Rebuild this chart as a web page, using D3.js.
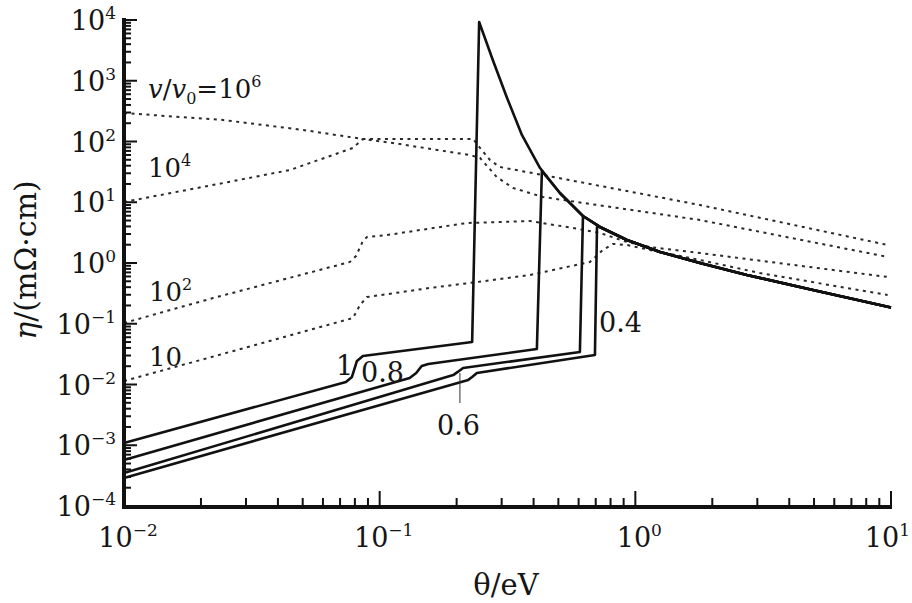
<!DOCTYPE html>
<html>
<head>
<meta charset="utf-8">
<script src="https://cdn.jsdelivr.net/npm/d3@7"></script>
<style>
  body { margin: 0; background: #fff; }
  svg { display: block; }
  text { font-family: "DejaVu Serif", serif; fill: #151515; }
</style>
</head>
<body>
<svg id="chart" width="912" height="603"></svg>
<script>
// tick values and labels
const xTicks = [0.01, 0.1, 1, 10]
const xTickExp = ['\u22122', '\u22121', '0', '1']
const yTicks = [1e-4, 1e-3, 1e-2, 1e-1, 1, 10, 100, 1000, 10000]
const yTickExp = ['\u22124', '\u22123', '\u22122', '\u22121', '0', '1', '2', '3', '4']
const minorMult = [2, 3, 4, 5, 6, 7, 8, 9]

// common high-temperature branch of the solid curves
const envTheta = [0.245, 0.277, 0.315, 0.360, 0.424, 0.507, 0.624, 0.727, 0.927, 1.25, 1.79, 2.73, 4.95, 10]
const envEta   = [9270, 2200, 520, 128, 36.6, 14.2, 5.94, 3.92, 2.39, 1.52, 1.0, 0.634, 0.360, 0.185]

// solid curves, v/v0 = 1, 0.8, 0.6, 0.4 (before they join the common branch)
const s1Theta  = [0.01, 0.0738, 0.0779, 0.0815, 0.086, 0.230]
const s1Eta    = [0.00109, 0.0110, 0.0133, 0.0244, 0.0294, 0.0501]
const s08Theta = [0.01, 0.131, 0.139, 0.146, 0.155, 0.412, 0.431]
const s08Eta   = [0.000571, 0.0128, 0.0155, 0.0202, 0.0217, 0.0384, 32.7]
const s06Theta = [0.01, 0.194, 0.202, 0.212, 0.607, 0.624]
const s06Eta   = [0.000349, 0.0143, 0.0161, 0.0187, 0.0343, 5.94]
const s04Theta = [0.01, 0.222, 0.230, 0.240, 0.695, 0.708]
const s04Eta   = [0.000289, 0.0119, 0.0133, 0.0155, 0.0306, 3.92]

// dotted curves, v/v0 = 1e6, 1e4, 1e2, 10
const d6Theta = [0.01, 0.0244, 0.0501, 0.086, 0.232, 0.247, 0.270, 0.295, 0.435, 1.79, 9.7]
const d6Eta   = [294, 226, 155, 110, 110, 78.2, 49.6, 38.0, 28.1, 9.01, 1.98]
const d4Theta = [0.01, 0.0244, 0.0446, 0.0786, 0.086, 0.1127, 0.168, 0.225, 0.247, 0.287, 0.332, 0.435, 1.79, 9.7]
const d4Eta   = [10.1, 20.7, 34.0, 78.2, 110, 94.5, 72.4, 60.0, 53.5, 26.1, 17.2, 12.2, 5.10, 1.26]
const d2Theta = [0.01, 0.0223, 0.0765, 0.0808, 0.086, 0.0892, 0.107, 0.219, 0.387, 0.570, 0.727, 0.927, 1.14, 1.79, 9.7]
const d2Eta   = [0.103, 0.265, 1.04, 1.30, 2.30, 2.68, 2.89, 4.55, 4.91, 3.77, 3.12, 2.22, 1.83, 1.46, 0.589]
const d1Theta = [0.01, 0.0786, 0.0838, 0.0892, 0.157, 0.225, 0.387, 0.664, 0.747, 0.817, 0.927, 1.14, 1.79, 3.07, 9.7]
const d1Eta   = [0.0114, 0.124, 0.204, 0.275, 0.388, 0.469, 0.634, 1.04, 1.64, 2.06, 1.98, 1.64, 1.12, 0.684, 0.297]

const svg = d3.select('#chart')

const x = d3.scaleLog().domain([0.01, 10]).range([124, 891])
const y = d3.scaleLog().domain([1e-4, 1e4]).range([506, 20])

const zip = (a, b) => a.map((v, i) => [v, b[i]])
const curve = d3.line().x(d => x(d[0])).y(d => y(d[1]))

function withEnvelope(th, et) {
    let pts = zip(th, et)
    let last = th[th.length - 1]
    zip(envTheta, envEta).forEach(p => { if (p[0] > last) pts.push(p) })
    return pts
}

// tick positions: majors from the label arrays, minors = 2..9 times each decade
let yTickList = []
yTicks.forEach((t, i) => {
    yTickList.push({ v: t, len: 13 })
    if (i < yTicks.length - 1) minorMult.forEach(k => yTickList.push({ v: k * t, len: 7 }))
})
let xTickList = []
xTicks.forEach((t, i) => {
    xTickList.push({ v: t, len: 16 })
    if (i < xTicks.length - 1) minorMult.forEach(k => xTickList.push({ v: k * t, len: 9 }))
})

// tick labels
yTicks.forEach((t, i) => {
    let tx = svg.append('text')
        .attr('x', 116).attr('y', y(t) + 10)
        .attr('text-anchor', 'end')
        .style('font-size', '27px')
        .text('10')
    tx.append('tspan').attr('dy', -11).style('font-size', '17px').text(yTickExp[i])
})
xTicks.forEach((t, i) => {
    let last = i == xTicks.length - 1
    let tx = svg.append('text')
        .attr('x', last ? 910 : x(t) + 4).attr('y', 547)
        .attr('text-anchor', last ? 'end' : 'middle')
        .style('font-size', '27px')
        .text('10')
    tx.append('tspan').attr('dy', -11).style('font-size', '17px').text(xTickExp[i])
})

// axis titles
let xt = svg.append('text').attr('x', 506).attr('y', 595)
    .attr('text-anchor', 'middle').style('font-size', '29px')
xt.append('tspan').text('\u03b8/eV')

let yt = svg.append('text')
    .attr('transform', 'translate(36,260) rotate(-90)')
    .attr('text-anchor', 'middle').style('font-size', '30px')
yt.append('tspan').style('font-style', 'italic').text('\u03b7')
yt.append('tspan').text('/(m\u03a9\u00b7cm)')

// dotted curves
const dotted = [zip(d6Theta, d6Eta), zip(d4Theta, d4Eta), zip(d2Theta, d2Eta), zip(d1Theta, d1Eta)]
dotted.forEach(pts => {
    svg.append('path')
        .attr('d', curve(pts))
        .attr('fill', 'none')
        .attr('stroke', '#2a2a2a')
        .attr('stroke-width', 2)
        .attr('stroke-dasharray', '3,4.5')
})

// solid curves
const solid = [withEnvelope(s1Theta, s1Eta), withEnvelope(s08Theta, s08Eta),
               withEnvelope(s06Theta, s06Eta), withEnvelope(s04Theta, s04Eta)]
solid.forEach(pts => {
    svg.append('path')
        .attr('d', curve(pts))
        .attr('fill', 'none')
        .attr('stroke', '#111')
        .attr('stroke-width', 2.6)
        .attr('stroke-linejoin', 'round')
})

// curve labels
let lab = svg.append('text').attr('x', 148).attr('y', 98).style('font-size', '26px')
lab.append('tspan').style('font-style', 'italic').text('v')
lab.append('tspan').text('/')
lab.append('tspan').style('font-style', 'italic').text('v')
lab.append('tspan').attr('dy', 6).style('font-size', '16px').text('0')
lab.append('tspan').attr('dy', -6).text('=10')
lab.append('tspan').attr('dy', -11).style('font-size', '16px').text('6')

function powLabel(px, py, exp) {
    let t = svg.append('text').attr('x', px).attr('y', py).style('font-size', '26px').text('10')
    if (exp) t.append('tspan').attr('dy', -11).style('font-size', '16px').text(exp)
}
powLabel(148, 177, '4')
powLabel(149, 301, '2')
powLabel(149, 366, null)

const plainLabels = [['1', 336, 375], ['0.8', 361, 382], ['0.6', 437, 435], ['0.4', 599, 332]]
plainLabels.forEach(d => {
    svg.append('text').attr('x', d[1]).attr('y', d[2]).style('font-size', '27px').text(d[0])
})

// pointer for the 0.6 label
svg.append('rect')
    .attr('x', x(0.206) - 0.5).attr('y', 373).attr('width', 1).attr('height', 30)
    .attr('fill', '#333')

// axis lines as filled bars
svg.append('rect').attr('x', 122).attr('y', 18).attr('width', 4).attr('height', 491).attr('fill', '#111')
svg.append('rect').attr('x', 122).attr('y', 505).attr('width', 770).attr('height', 4).attr('fill', '#111')

// ticks as small filled bars pointing inwards
let tickG = svg.append('g').attr('id', 'ticks')
tickG.selectAll('rect.yt').data(yTickList)
    .join('rect')
    .attr('class', 'yt')
    .attr('x', 124)
    .attr('y', d => y(d.v) - 1)
    .attr('width', d => d.len)
    .attr('height', 2)
    .attr('fill', '#111')
tickG.selectAll('rect.xt').data(xTickList)
    .join('rect')
    .attr('class', 'xt')
    .attr('x', d => x(d.v) - 1)
    .attr('y', d => 507 - d.len)
    .attr('width', 2)
    .attr('height', d => d.len)
    .attr('fill', '#111')
</script>
</body>
</html>
